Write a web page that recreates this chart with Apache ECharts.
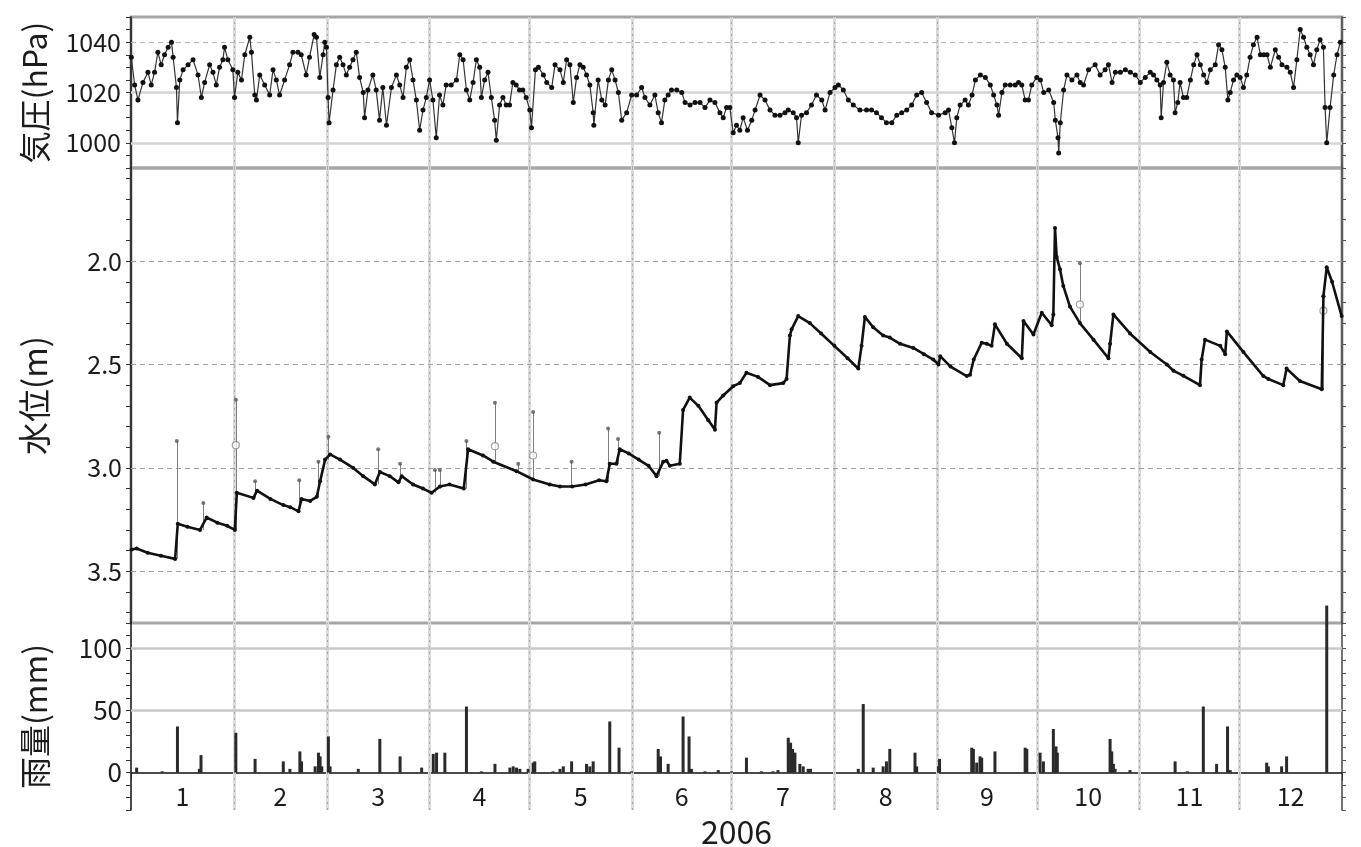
<!DOCTYPE html>
<html>
<head>
<meta charset="utf-8">
<script src="https://cdn.jsdelivr.net/npm/echarts@6/dist/echarts.min.js"></script>
<style>
  html, body { margin: 0; padding: 0; background: #ffffff; }
  #chart { width: 1361px; height: 847px; }
</style>
</head>
<body>
<div id="chart"></div>
<script>
// Day-of-year (0 = 1 Jan 2006) for every series below.
const monthStarts = [0, 31, 59, 90, 120, 151, 181, 212, 243, 273, 304, 334, 365];
const monthLabels = ['1', '2', '3', '4', '5', '6', '7', '8', '9', '10', '11', '12'];
const yearLabel = '2006';

const pressureLabels = [1000, 1020, 1040];
const levelLabels = [2.0, 2.5, 3.0, 3.5];
const rainLabels = [0, 50, 100];

// Sea-level pressure (hPa): [day, value]
const pressure = [
  [0.1,1034],[1.1,1023],[2.1,1017],[3.6,1024],[5.1,1028],[6.1,1023],[7.1,1028],[8.1,1036],[9.1,1031],[10.1,1035],
  [11.2,1038],[12.2,1040],[12.7,1034],[13.7,1022],[14.0,1008],[14.7,1025],[15.7,1029],[17.2,1031],[18.7,1033],[20.2,1027],
  [21.2,1018],[22.2,1024],[23.7,1031],[24.7,1028],[25.7,1023],[26.7,1030],[27.7,1033],[28.2,1038],[29.2,1033],[30.7,1029],
  [31.2,1018],[32.2,1028],[33.3,1025],[34.3,1035],[35.8,1042],[36.3,1036],[37.3,1019],[37.8,1017],[38.8,1027],[40.3,1023],
  [41.8,1019],[42.8,1029],[43.8,1025],[44.8,1019],[46.3,1025],[47.8,1031],[48.8,1036],[50.3,1036],[51.3,1035],[52.8,1027],
  [53.8,1034],[55.2,1043],[55.9,1042],[56.9,1026],[57.9,1035],[58.4,1040],[58.9,1038],[59.4,1018],[59.7,1008],[60.9,1021],
  [61.9,1031],[62.9,1034],[63.9,1031],[64.9,1027],[65.9,1030],[66.9,1033],[67.9,1036],[68.9,1026],[70.0,1020],[70.4,1010],
  [71.4,1021],[72.9,1027],[73.9,1021],[74.9,1009],[75.9,1022],[77.0,1007],[78.5,1022],[80.0,1027],[81.0,1023],[82.0,1018],
  [83.0,1030],[84.0,1033],[85.0,1025],[86.0,1017],[87.0,1005],[88.0,1013],[89.0,1018],[90.0,1025],[91.0,1017],[92.0,1002],
  [93.0,1019],[94.0,1015],[95.0,1023],[96.5,1023],[98.1,1025],[99.1,1035],[100.1,1033],[101.1,1021],[102.1,1017],[103.1,1024],
  [104.1,1033],[105.1,1030],[105.6,1018],[106.6,1025],[107.6,1028],[108.6,1018],[109.6,1009],[110.1,1001],[111.1,1015],[112.1,1018],
  [113.1,1015],[114.1,1015],[115.1,1024],[116.1,1023],[117.1,1021],[118.1,1021],[119.1,1018],[120.2,1013],[120.7,1006],[121.9,1029],
  [122.8,1030],[124.3,1027],[125.3,1024],[126.8,1022],[127.8,1031],[129.3,1029],[130.3,1024],[131.3,1033],[132.3,1031],[133.3,1016],
  [134.3,1026],[135.3,1031],[136.3,1030],[137.3,1027],[138.3,1023],[139.3,1012],[139.5,1007],[140.8,1025],[141.9,1017],[142.9,1015],
  [143.9,1025],[144.9,1029],[145.9,1025],[146.9,1020],[147.9,1009],[149.4,1012],[150.9,1019],[152.4,1019],[153.9,1022],[154.9,1018],
  [156.4,1015],[157.9,1019],[158.9,1012],[159.9,1008],[160.9,1017],[161.9,1019],[162.9,1021],[164.5,1021],[166.0,1020],[167.0,1016],
  [168.5,1015],[170.0,1016],[171.5,1016],[173.0,1014],[174.5,1017],[176.0,1016],[177.5,1012],[178.5,1010],[179.5,1014],[180.5,1014],
  [181.5,1004],[182.5,1007],[183.5,1005],[184.5,1010],[185.8,1005],[187.1,1009],[188.1,1013],[189.6,1019],[191.1,1017],[192.6,1013],
  [194.1,1011],[195.6,1011],[197.1,1012],[198.1,1013],[199.6,1012],[200.6,1010],[201.1,1000],[202.1,1011],[203.6,1012],[205.1,1015],
  [206.6,1019],[208.2,1017],[209.2,1013],[210.7,1020],[212.2,1022],[213.2,1023],[214.7,1021],[216.2,1017],[217.7,1015],[219.7,1013],
  [221.7,1013],[223.2,1013],[224.7,1012],[226.2,1010],[227.7,1008],[229.3,1008],[230.8,1011],[232.3,1012],[233.8,1013],[235.3,1015],
  [236.8,1019],[238.3,1020],[239.8,1016],[241.3,1012],[243.4,1011],[245.4,1012],[246.4,1013],[247.4,1006],[248.2,1000],[248.9,1010],
  [249.9,1015],[251.4,1017],[252.4,1015],[253.5,1019],[254.5,1025],[256.0,1027],[257.5,1026],[259.0,1023],[260.0,1019],[261.0,1015],
  [261.5,1011],[262.5,1020],[263.5,1023],[265.0,1023],[266.5,1023],[267.5,1024],[268.5,1023],[269.5,1017],[270.5,1017],[271.5,1023],
  [273.0,1026],[274.1,1025],[275.1,1020],[276.6,1021],[278.1,1016],[278.6,1009],[279.4,1002],[279.6,996],[280.1,1008],[281.1,1021],
  [282.1,1027],[283.6,1025],[285.1,1027],[286.1,1024],[287.1,1023],[288.6,1029],[290.6,1031],[292.1,1027],[293.6,1029],[294.6,1031],
  [295.7,1024],[296.7,1028],[298.2,1028],[299.7,1029],[301.2,1028],[302.7,1027],[304.2,1024],[305.7,1026],[307.2,1028],[308.2,1027],
  [309.2,1025],[310.2,1023],[310.5,1010],[311.2,1024],[312.2,1032],[313.2,1027],[314.2,1025],[314.7,1012],[315.5,1016],[316.2,1024],
  [317.2,1018],[318.2,1018],[319.3,1025],[320.3,1031],[321.3,1035],[322.3,1031],[323.3,1027],[324.3,1024],[325.3,1029],[326.8,1031],
  [327.8,1039],[328.8,1037],[329.8,1030],[330.6,1017],[331.3,1020],[332.3,1025],[333.3,1027],[334.3,1026],[335.3,1022],[336.3,1027],
  [337.3,1034],[338.3,1039],[339.4,1042],[340.4,1035],[341.4,1035],[342.4,1035],[343.4,1030],[344.9,1037],[345.9,1034],[346.9,1031],
  [348.4,1030],[349.4,1028],[350.4,1022],[351.4,1033],[352.4,1045],[353.4,1042],[354.4,1038],[355.4,1035],[356.4,1031],[357.4,1037],
  [358.4,1041],[359.4,1038],[359.9,1014],[360.4,1000],[361.4,1014],[362.5,1027],[363.5,1035],[364.5,1040]
];

// Groundwater level, depth below surface (m): [day, value]
const waterLevel = [
  [0.2,3.395],[1.7,3.39],[5,3.41],[9,3.425],[13.3,3.44],[14.1,3.27],[17,3.285],[20.8,3.30],[22.8,3.24],[26,3.265],
  [29,3.28],[31.3,3.30],[31.9,3.12],[36.9,3.145],[38,3.11],[42,3.15],[45.9,3.18],[48,3.19],[50.5,3.21],[51.4,3.15],
  [54,3.16],[56,3.14],[57,3.065],[58.5,2.96],[60,2.935],[63,2.96],[67,3.00],[70,3.04],[73.5,3.08],[75,3.02],
  [78,3.04],[80.6,3.07],[81.6,3.04],[85,3.08],[88,3.10],[90.6,3.12],[93.1,3.09],[96,3.08],[100.3,3.10],[101.6,2.91],
  [106.1,2.94],[109.2,2.97],[116.2,3.016],[121.2,3.056],[126.2,3.08],[129.3,3.09],[133,3.09],[137,3.08],[141.1,3.06],[143.3,3.065],
  [144.3,2.98],[146.3,2.98],[147.3,2.91],[150,2.93],[153,2.96],[156,2.99],[158.4,3.04],[160.4,2.97],[161.4,2.965],[162.4,2.99],
  [165.4,2.98],[166.4,2.72],[168.4,2.66],[171,2.70],[174,2.77],[176,2.815],[176.5,2.685],[178.5,2.65],[181.5,2.605],[183.5,2.59],
  [185.5,2.54],[189,2.56],[192.6,2.60],[196.6,2.59],[197.6,2.57],[198.6,2.36],[199.1,2.33],[201.1,2.266],[204.6,2.30],[208,2.35],
  [212,2.41],[216,2.47],[219.2,2.52],[220.2,2.41],[221.2,2.27],[223.7,2.32],[226.7,2.36],[228.7,2.37],[231.8,2.40],[235.8,2.42],
  [239,2.45],[241.8,2.476],[243.4,2.50],[243.9,2.46],[247,2.51],[251.9,2.556],[252.9,2.55],[254,2.476],[256.4,2.395],[257.9,2.40],
  [259.4,2.41],[260.4,2.306],[264,2.40],[268.5,2.47],[269,2.29],[272,2.355],[274.5,2.25],[277.5,2.31],[278,2.258],[278.5,1.84],
  [279,1.98],[280,2.04],[281,2.12],[283,2.22],[286,2.30],[290.1,2.38],[294.6,2.47],[295.1,2.40],[296.1,2.258],[301.1,2.35],
  [307.2,2.44],[312.2,2.50],[314.2,2.53],[317.2,2.555],[322.2,2.60],[322.7,2.476],[323.7,2.38],[328.3,2.41],[329.8,2.45],[330.3,2.34],
  [335.3,2.44],[341.3,2.556],[342.8,2.57],[347.3,2.60],[348.3,2.52],[352.3,2.58],[358.9,2.62],[359.4,2.17],[360.4,2.03],[362,2.10],
  [364.9,2.266]
];

// Short-lived rises of the level after rain: [day, level before, peak level]
const levelSpikes = [
  [13.8,3.44,2.87],[21.8,3.30,3.17],[31.6,3.30,2.67],[37.4,3.145,3.065],[50.7,3.21,3.06],[56.5,3.14,2.97],
  [59.5,2.96,2.85],[74.5,3.08,2.91],[81.1,3.07,2.98],[91.6,3.12,3.01],[93.1,3.10,3.01],[101.1,3.10,2.87],
  [109.7,2.97,2.685],[116.7,3.02,2.98],[121.2,3.056,2.73],[132.8,3.09,2.97],[143.8,3.065,2.81],[146.8,2.98,2.86],
  [159.2,3.04,2.83],[286,2.30,2.01],[359.4,2.62,2.17]
];
// Manual readings taken during those rises: [day, level]
const manualReadings = [[31.6,2.89],[109.7,2.895],[121.2,2.94],[286,2.21],[359.4,2.24]];

// Daily precipitation (mm): [day, value]
const rainfall = [
  [1.7,4],[9.4,1],[14,37],[20.6,3],[21.1,14],[31.6,32],[37.4,11],[45.9,9],[47.9,3],[50.9,17],
  [51.4,9],[55.5,5],[56.5,16],[57,13],[57.5,5],[59.5,29],[60,5],[68.5,3],[75,27],[81.1,13],
  [87.6,4],[91.1,15],[92.1,16],[94.6,16],[101.1,53],[105.6,1],[109.7,7],[114.2,4],[115.2,5],[116.2,4],
  [117.2,3],[119.7,3],[121.2,8],[121.7,9],[127.2,1],[129.3,3],[130.3,5],[132.8,9],[137.3,7],[138.3,5],
  [139.3,9],[144.3,41],[147.1,20],[150.9,1],[158.9,19],[159.6,13],[161.9,7],[166.4,45],[168.2,29],[168.9,3],
  [173,1],[177,2],[181,1],[185.5,12],[190,1],[193.5,1],[195,2],[198.1,28],[198.8,24],[199.4,19],
  [200.1,16],[201.6,7],[202.6,5],[204.1,3],[204.8,3],[219.2,3],[220.7,55],[223.7,4],[226.7,5],[227.7,9],
  [228.7,19],[236.3,16],[236.8,5],[243.4,5],[243.7,11],[253.4,20],[253.9,19],[254.9,8],[255.9,13],[256.4,12],
  [260.4,17],[269.5,20],[270,19],[274,16],[275,9],[278,35],[278.8,21],[279.2,16],[295.1,27],[295.6,17],
  [296.1,7],[296.6,3],[301.1,2],[314.7,9],[318.4,1],[323.2,53],[327.2,7],[330.5,37],[331.3,2],[342.3,8],
  [342.8,5],[346.8,5],[348.3,13],[360.4,134]
];

const FONT = "'Noto Sans CJK JP', 'Noto Sans', sans-serif";
const INK = '#1c1c1c';
const monthMids = monthLabels.map((_, i) => (monthStarts[i] + monthStarts[i + 1]) / 2);
const levelTickValues = [];
for (let i = 16; i <= 37; i++) levelTickValues.push(i / 10);

// Rain panel geometry: the month axis sits on the 0 mm line, above the panel floor
const RAIN_MIN = -30, RAIN_MAX = 120, RAIN_TOP = 623, RAIN_H = 187;
const zeroOffset = -RAIN_H * (0 - RAIN_MIN) / (RAIN_MAX - RAIN_MIN);

// Month boundary guides: a soft grey band with a dotted core
function monthGuides() {
  const out = [];
  monthStarts.slice(1, 12).forEach(d => {
    out.push({ xAxis: d, lineStyle: { color: '#dadada', width: 3, type: 'solid' } });
    out.push({ xAxis: d, lineStyle: { color: '#a8a8a8', width: 1, type: [2, 4] } });
  });
  return out;
}
function guides(hLines) {
  return {
    silent: true, symbol: ['none', 'none'], animation: false, z: 1,
    label: { show: false },
    data: monthGuides().concat(hLines)
  };
}

function leftAxis(gridIndex, extra) {
  return Object.assign({
    type: 'value', gridIndex, position: 'left',
    axisLine: { show: true, onZero: false, lineStyle: { color: '#111', width: 1.5 } },
    axisTick: { show: true, inside: false, length: 5, lineStyle: { color: '#333' } },
    axisLabel: { color: INK, fontSize: 24, fontFamily: FONT, margin: 9 },
    splitLine: { show: false },
    nameLocation: 'middle', nameRotate: 90, nameGap: 80,
    nameTextStyle: { color: INK, fontSize: 32, fontFamily: FONT }
  }, extra);
}
function rightAxis(gridIndex, extra) {
  return Object.assign({
    type: 'value', gridIndex, position: 'right',
    axisLine: { show: true, onZero: false, lineStyle: { color: '#444', width: 1.5 } },
    axisTick: { show: true, inside: false, length: 4, lineStyle: { color: '#555' } },
    axisLabel: { show: false },
    splitLine: { show: false }
  }, extra);
}

const GL = 131, GR = 19;
const option = {
  backgroundColor: '#ffffff',
  animation: false,
  grid: [
    { left: GL, right: GR, top: 17, height: 151, show: true, borderColor: '#a5a5a5', borderWidth: 3, outerBoundsMode: 'none' },
    { left: GL, right: GR, top: 168, height: 455, show: true, borderColor: '#a5a5a5', borderWidth: 3, outerBoundsMode: 'none' },
    { left: GL, right: GR, top: RAIN_TOP, height: RAIN_H, show: false, outerBoundsMode: 'none' }
  ],
  xAxis: [
    { type: 'value', gridIndex: 0, min: 0, max: 365, show: false },
    { type: 'value', gridIndex: 1, min: 0, max: 365, show: false },
    {
      type: 'value', gridIndex: 2, min: 0, max: 365, position: 'bottom', offset: zeroOffset,
      axisLine: { show: true, onZero: false, lineStyle: { color: '#111', width: 1.5 } },
      axisTick: { show: true, customValues: monthStarts, length: 8, lineStyle: { color: '#333' } },
      axisLabel: {
        customValues: monthMids, color: INK, fontSize: 25, fontFamily: FONT, margin: 11,
        formatter: v => monthLabels[monthMids.findIndex(m => Math.abs(m - v) < 1e-6)] || ''
      },
      splitLine: { show: false },
      name: yearLabel, nameLocation: 'middle', nameGap: 43,
      nameTextStyle: { color: INK, fontSize: 32, fontFamily: FONT }
    }
  ],
  yAxis: [
    leftAxis(0, {
      min: 990, max: 1050, interval: 5, name: '気圧(hPa)',
      axisLabel: { color: INK, fontSize: 25, fontFamily: FONT, margin: 10,
        formatter: v => pressureLabels.includes(v) ? String(v) : '' }
    }),
    leftAxis(1, {
      min: 1.55, max: 3.75, inverse: true, name: '水位(m)',
      nameTextStyle: { color: INK, fontSize: 33, fontFamily: FONT },
      axisTick: { show: true, inside: false, length: 5, customValues: levelTickValues, lineStyle: { color: '#333' } },
      axisLabel: { color: INK, fontSize: 25, fontFamily: FONT, margin: 9,
        customValues: levelLabels, formatter: v => v.toFixed(1) }
    }),
    leftAxis(2, {
      min: RAIN_MIN, max: RAIN_MAX, interval: 10, name: '雨量(mm)',
      axisLabel: { color: INK, fontSize: 26, fontFamily: FONT, margin: 9,
        formatter: v => rainLabels.includes(v) ? String(v) : '' }
    }),
    rightAxis(0, { min: 990, max: 1050, interval: 5 }),
    rightAxis(1, { min: 1.55, max: 3.75, inverse: true,
      axisTick: { show: true, length: 4, customValues: levelTickValues, lineStyle: { color: '#555' } } }),
    rightAxis(2, { min: RAIN_MIN, max: RAIN_MAX, interval: 10 })
  ],
  series: [
    {
      type: 'line', name: '気圧', xAxisIndex: 0, yAxisIndex: 0, data: pressure, z: 3,
      symbol: 'circle', symbolSize: 5, showSymbol: true,
      lineStyle: { color: '#333', width: 1.2 }, itemStyle: { color: '#111' },
      markLine: guides([
        { yAxis: 1000, lineStyle: { color: '#d4d4d4', width: 2.5, type: 'solid' } },
        { yAxis: 1020, lineStyle: { color: '#d4d4d4', width: 2.5, type: 'solid' } },
        { yAxis: 1040, lineStyle: { color: '#b5b5b5', width: 1.2, type: [5, 4] } }
      ])
    },
    {
      type: 'lines', name: '水位変動', coordinateSystem: 'cartesian2d', xAxisIndex: 1, yAxisIndex: 1,
      silent: true, z: 2,
      data: levelSpikes.map(s => ({ coords: [[s[0], s[1]], [s[0], s[2]]] })),
      lineStyle: { color: '#808080', width: 1, opacity: 1 }
    },
    {
      type: 'scatter', name: '水位ピーク', xAxisIndex: 1, yAxisIndex: 1, z: 3,
      data: levelSpikes.map(s => [s[0], s[2]]),
      symbol: 'circle', symbolSize: 4, itemStyle: { color: '#555' }
    },
    {
      type: 'scatter', name: '手測り', xAxisIndex: 1, yAxisIndex: 1, z: 3,
      data: manualReadings,
      symbol: 'circle', symbolSize: 7,
      itemStyle: { color: '#ffffff', borderColor: '#8a8a8a', borderWidth: 1.2 }
    },
    {
      type: 'line', name: '水位', xAxisIndex: 1, yAxisIndex: 1, data: waterLevel, z: 4,
      symbol: 'circle', symbolSize: 4, showSymbol: true,
      lineStyle: { color: '#111', width: 2.6 }, itemStyle: { color: '#111' },
      markLine: guides(levelLabels.map(v => ({ yAxis: v, lineStyle: { color: '#a0a0a0', width: 1.2, type: [5, 4] } })))
    },
    {
      type: 'bar', name: '雨量', xAxisIndex: 2, yAxisIndex: 2, data: rainfall, z: 3,
      barWidth: 3, clip: false,
      itemStyle: { color: '#2a2a2a' },
      markLine: guides([
        { yAxis: 50, lineStyle: { color: '#c8c8c8', width: 2.5, type: 'solid' } },
        { yAxis: 100, lineStyle: { color: '#c8c8c8', width: 2.5, type: 'solid' } }
      ])
    }
  ]
};

const chart = echarts.init(document.getElementById('chart'), null, { renderer: 'canvas' });
chart.setOption(option);
</script>
</body>
</html>
